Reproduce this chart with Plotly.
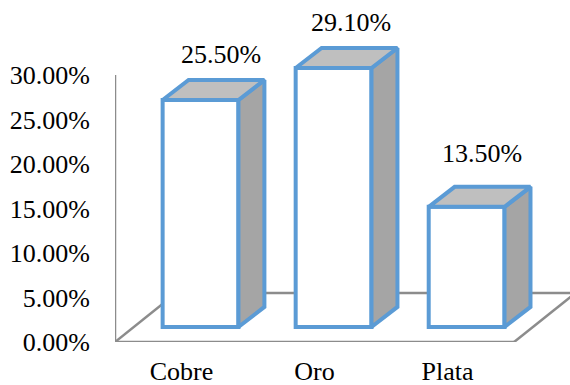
import plotly.graph_objects as go

# Chart data
metals = ["Cobre", "Oro", "Plata"]
shares = [25.5, 29.1, 13.5]
y_ticks = [0, 5, 10, 15, 20, 25, 30]

# Colours and text
EDGE = "#5B9BD5"
FACE = "#FFFFFF"
SIDE = "#A5A5A5"
TOP = "#BFBFBF"
WALL = "#8C8C8C"
FONT = dict(family="Liberation Serif", size=26, color="#000000")
CLEAR = "rgba(0,0,0,0)"

# Axis windows leave headroom for the receding faces and the floor
X_START = -0.5
X_END = 2.5
X_VIEW_END = 2.92
Y_TOP = 30
Y_VIEW_TOP = 38.43

# Pseudo-3D geometry, in axis units
BAR_WIDTH = 0.57
BAR_SHIFT = 0.143   # bars sit right of their category tick
BAR_FLOOR = 1.69    # front face rises from this level, above the axis line
DEPTH_X = 0.195     # receding offset of the side and top faces
DEPTH_Y = 2.25
FLOOR_X = 0.46
FLOOR_Y = 5.5
label_shift = [0.297, 0.274, 0.259]
label_lift = [2.63, 2.63, 3.53]
EDGE_WIDTH = 4

fig = go.Figure()

# Front faces
fig.add_trace(go.Bar(
    x=[i + BAR_SHIFT for i in range(len(metals))],
    y=shares,
    base=BAR_FLOOR,
    width=BAR_WIDTH,
    marker=dict(color=FACE, line=dict(color=EDGE, width=EDGE_WIDTH)),
    hoverinfo="skip",
))

# Side and top faces follow from each bar's value
for i, value in enumerate(shares):
    left = i + BAR_SHIFT - BAR_WIDTH / 2
    right = i + BAR_SHIFT + BAR_WIDTH / 2
    low = BAR_FLOOR
    high = BAR_FLOOR + value
    fig.add_trace(go.Scatter(
        x=[right, right + DEPTH_X, right + DEPTH_X, right, right],
        y=[low, low + DEPTH_Y, high + DEPTH_Y, high, low],
        mode="lines", fill="toself", fillcolor=SIDE,
        line=dict(color=EDGE, width=EDGE_WIDTH),
        hoverinfo="skip",
    ))
    fig.add_trace(go.Scatter(
        x=[left, left + DEPTH_X, right + DEPTH_X, right, left],
        y=[high, high + DEPTH_Y, high + DEPTH_Y, high, high],
        mode="lines", fill="toself", fillcolor=TOP,
        line=dict(color=EDGE, width=EDGE_WIDTH),
        hoverinfo="skip",
    ))

# Value labels above each bar
fig.add_trace(go.Scatter(
    x=[i + shift for i, shift in enumerate(label_shift)],
    y=[v + BAR_FLOOR + DEPTH_Y + lift for v, lift in zip(shares, label_lift)],
    mode="text",
    text=[f"{v:.2f}%" for v in shares],
    textposition="middle center",
    textfont=FONT,
    hoverinfo="skip",
))

# Axis lines and floor outline, behind the bars
frame_lines = [
    (X_START, 0, X_START, Y_TOP),
    (X_START, 0, X_END, 0),
    (X_START, 0, X_START + FLOOR_X, FLOOR_Y),
    (X_START + FLOOR_X, FLOOR_Y, X_END + FLOOR_X, FLOOR_Y),
    (X_END, 0, X_END + FLOOR_X, FLOOR_Y),
]
shapes = [
    dict(type="line", xref="x", yref="y", layer="below",
         x0=a, y0=b, x1=c, y1=d, line=dict(color=WALL, width=2.5))
    for a, b, c, d in frame_lines
]

fig.update_layout(
    width=570,
    height=385,
    autosize=False,
    margin=dict(l=115, r=0, t=0, b=43, pad=0),
    paper_bgcolor="#FFFFFF",
    plot_bgcolor="#FFFFFF",
    showlegend=False,
    shapes=shapes,
    font=FONT,
    xaxis=dict(
        range=[X_START, X_VIEW_END],
        tickmode="array",
        tickvals=list(range(len(metals))),
        ticktext=metals,
        showgrid=False,
        zeroline=False,
        showline=False,
        ticks="outside",
        ticklen=6,
        tickcolor=CLEAR,
        tickfont=FONT,
        automargin=False,
    ),
    yaxis=dict(
        range=[0, Y_VIEW_TOP],
        tickmode="array",
        tickvals=y_ticks,
        ticktext=[f"{t:.2f}%" for t in y_ticks],
        showgrid=False,
        zeroline=False,
        showline=False,
        ticks="outside",
        ticklen=19,
        tickcolor=CLEAR,
        tickfont=FONT,
        automargin=False,
    ),
)

fig.write_html("out.html", config=dict(displayModeBar=False))
